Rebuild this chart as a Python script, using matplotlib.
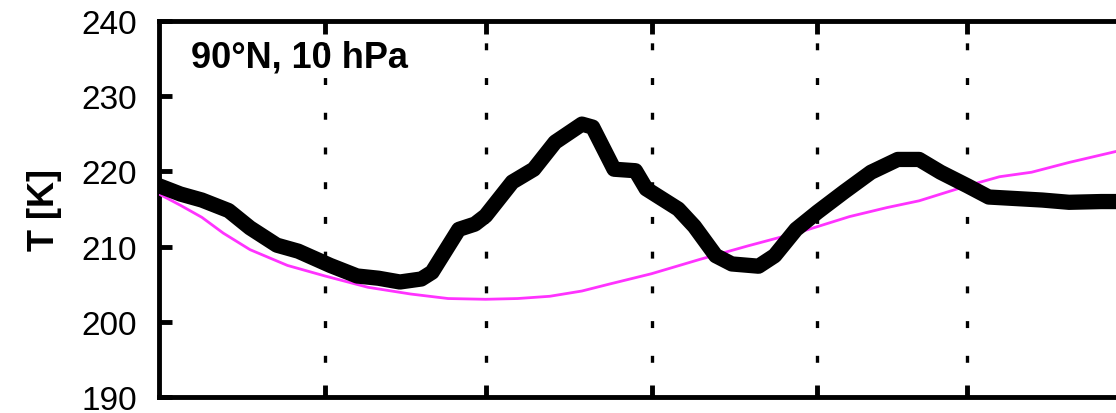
import numpy as np
import matplotlib.pyplot as plt

plt.rcParams['font.family'] = ['Liberation Sans', 'DejaVu Sans']
plt.rcParams['lines.scale_dashes'] = False

# days since 1 Oct
obs_day = [0, 4, 8, 13, 17, 22, 26, 32, 37, 41, 45, 49, 51, 56, 59, 61, 66, 70,
           74, 79, 81, 85, 89, 91, 97, 100, 104, 107, 112, 115, 119, 123, 128,
           133, 138, 142, 146, 151, 155, 160, 165, 170, 176, 182]
obs_T = [218.1, 217.0, 216.2, 214.8, 212.5, 210.2, 209.4, 207.5, 206.1, 205.8,
         205.3, 205.7, 206.6, 212.3, 213.0, 214.1, 218.6, 220.3, 223.9, 226.3,
         225.9, 220.3, 220.1, 217.7, 215.0, 212.7, 208.8, 207.7, 207.4, 208.8,
         212.3, 214.6, 217.3, 219.9, 221.6, 221.6, 219.9, 218.1, 216.6, 216.4,
         216.2, 215.9, 216.0, 216.0]

clim_day = [0, 4, 8, 12, 17, 24, 31, 39, 47, 54, 61, 67, 73, 79, 84, 92, 101,
            110, 120, 129, 136, 142, 151, 157, 163, 170, 179, 182]
clim_T = [217.0, 215.5, 213.9, 211.8, 209.6, 207.5, 206.1, 204.6, 203.7, 203.1,
          203.0, 203.1, 203.4, 204.1, 205.0, 206.4, 208.3, 210.1, 212.0, 214.0,
          215.2, 216.1, 218.1, 219.3, 219.9, 221.2, 222.7, 223.2]

# month boundaries: Nov, Dec, Jan, Feb, Mar
month_start = [31, 61, 92, 123, 151]
yticks = [190, 200, 210, 220, 230, 240]

fig = plt.figure(figsize=(11.16, 4.14), dpi=100)
ax = fig.add_axes([0.1425, 0.0386, 0.873, 0.908])

for d in month_start:
    ax.axvline(d, color='k', lw=2.4, dashes=(5, 20), zorder=2)

ax.plot(clim_day, clim_T, color='#ff33ff', lw=2.0, zorder=3)
ax.plot(obs_day, obs_T, color='k', lw=11, solid_capstyle='round',
        solid_joinstyle='round', zorder=4)

ax.text(0.033, 0.905, '90°N, 10 hPa', transform=ax.transAxes, fontsize=26,
        fontweight='bold', va='center', ha='left', zorder=1)

ax.set_xlim(0, 182)
ax.set_ylim(190, 240)
ax.set_xticks(month_start)
ax.set_xticklabels([])
ax.set_yticks(yticks)
ax.tick_params(axis='x', direction='in', top=True, length=9, width=3.5)
ax.tick_params(axis='y', direction='in', length=9, width=3.5, labelsize=24, pad=16)
ax.set_ylabel('T [K]', fontsize=26, fontweight='bold', labelpad=14)
for s in ax.spines.values():
    s.set_linewidth(3.5)

plt.savefig('out.png', dpi=100)
